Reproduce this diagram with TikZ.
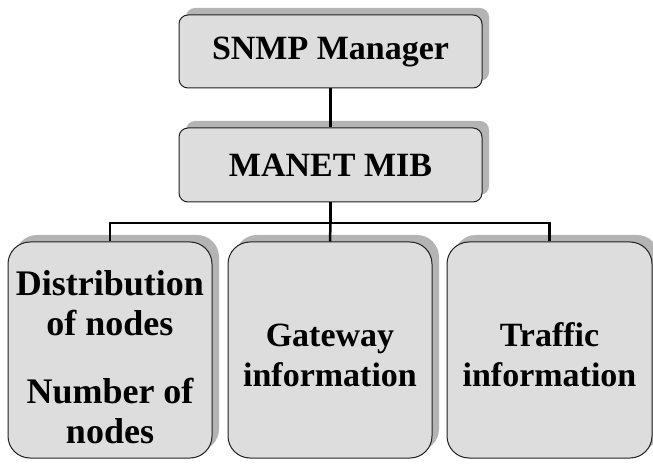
\documentclass[tikz,border=0pt]{standalone}
\usepackage{fontspec}
\setmainfont{Liberation Serif}
\usetikzlibrary{shadows}
\definecolor{boxfill}{HTML}{DDDDDD}
\definecolor{shadowgray}{HTML}{B4B4B4}
\definecolor{edge}{HTML}{202020}
\tikzset{
  box/.style={draw=edge, line width=1pt, fill=boxfill, rounded corners=#1,
    inner sep=0pt, align=center,
    font=\fontsize{34}{40}\selectfont\bfseries,
    copy shadow={shadow xshift=7pt, shadow yshift=7pt, fill=shadowgray, draw=none}},
  label/.style={align=center, font=\fontsize{34}{40}\selectfont\bfseries},
  link/.style={line width=2.5pt, black}
}
\begin{document}
\begin{tikzpicture}[x=1pt,y=1pt]
\useasboundingbox (0,0) rectangle (653,464);
\node[box=9pt, minimum width=303pt, minimum height=73pt] (snmp) at (330.5,412.5) {SNMP Manager};
\node[box=9pt, minimum width=303pt, minimum height=74pt] (mib) at (330.5,299) {MANET MIB};
\node[box=22pt, minimum width=204pt, minimum height=216pt] (b1) at (110,114) {};
\node[box=22pt, minimum width=204pt, minimum height=216pt] (b2) at (330,114) {};
\node[box=22pt, minimum width=205pt, minimum height=216pt] (b3) at (549.5,114) {};
\node[label, font=\fontsize{36}{40}\selectfont\bfseries] (t1) at (110,107) {Distribution\\of nodes\\[28pt]Number of\\nodes};
\node[label] (t2) at (330,109) {Gateway\\information};
\node[label] (t3) at (549.5,109) {Traffic\\information};
\coordinate (bus) at (330.5,241);
\draw[link] (snmp.south) -- (mib.north);
\draw[link] (mib.south) -- (bus);
\draw[link] (bus) -| (b1.north);
\draw[link] (bus) -| (b3.north);
\draw[link] (bus) -- (b2.north);
\end{tikzpicture}
\end{document}
